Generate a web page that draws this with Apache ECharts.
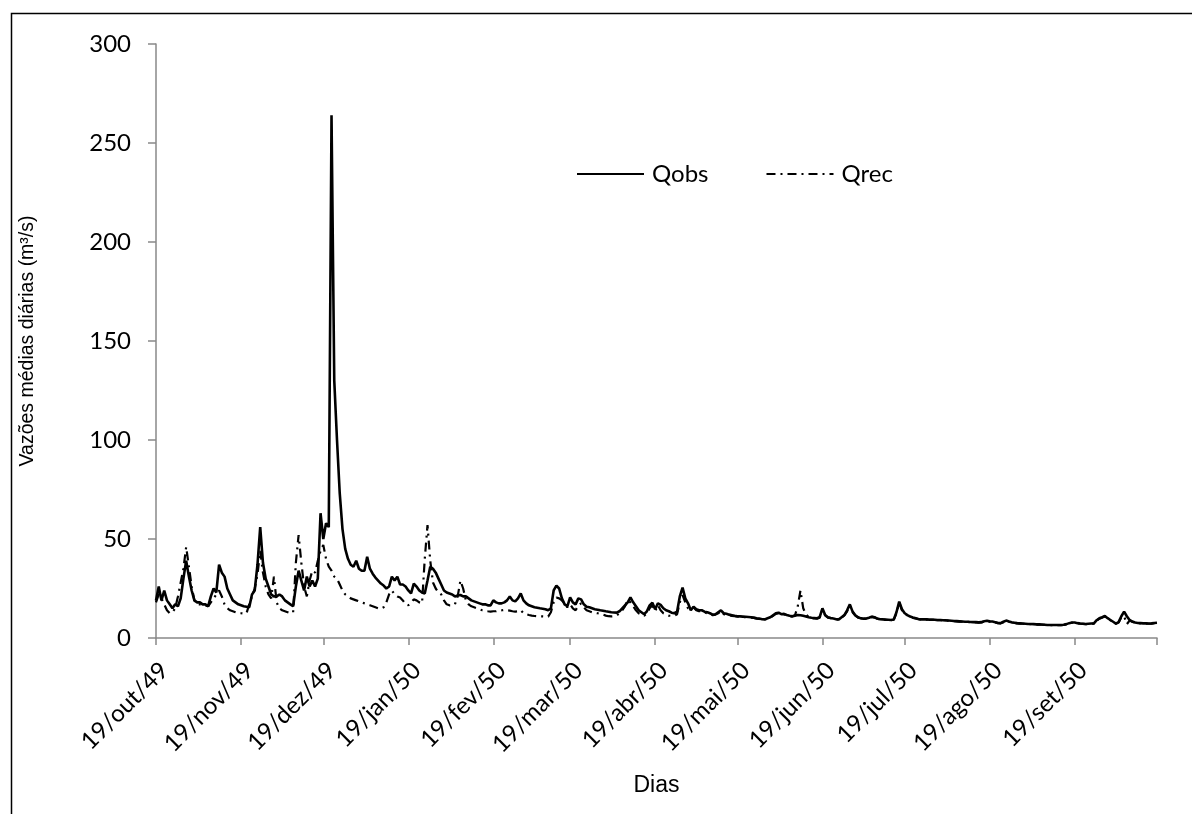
<!DOCTYPE html>
<html>
<head>
<meta charset="utf-8">
<script src="https://cdn.jsdelivr.net/npm/echarts@6/dist/echarts.min.js"></script>
<style>
html,body{margin:0;padding:0;background:#fff;}
#chart{width:1192px;height:814px;}
</style>
</head>
<body>
<div id="chart"></div>
<script>
// ---- data ----
var startYear = 1949, startMonth = 9, startDay = 19; // 19/out/49
var dayCount = 366;
var monthNames = ['jan','fev','mar','abr','mai','jun','jul','ago','set','out','nov','dez'];
var yTicks = [0, 50, 100, 150, 200, 250, 300];

var qobs = [
  19,26,19,24,19,17,15,17,16,20, 30,39,31,24,19,18,18,17,17,16, 21,25,23,37,33,31,25,22,19,18, 17,
  16.5,16,15.8,15.6,22,24,37,56,38,30, 26,22,21,21,22,21,19,18,17,16, 26,34,29,24,31,26,29,26,30,63,
  50,58,56,264,130,100,73,55,45,40, 37,36,39,35,34,34,41,35,32.5,30.5, 29,27.5,26.5,25,26,31,29,31,27,27, 26,
  24,22.5,27.5,26,24,23,22.5,29,36,35, 33,30,27,24,23,22.5,22,21,21.5,21.7, 21,21,20,19,18.5,18,17.5,17,17,16.5, 16.5,
  19,18,17.5,17.5,18,19,21,19,18.5,20, 22.5,19,17.5,16.5,16,15.5,15.3,15,14.8,14.5, 14,15,24,26.5,25,20,17,16,
  20.5,18,17,20,19.5,17,15.8,15.5,15,14.5, 14.3,14,13.8,13.5,13.3,13,12.9,12.8,13.5,15, 16.5,18,20.5,18,16,14,13,12,13.5,16.5, 17.8,
  14.5,17.5,16.7,15,14,13.5,12.8,12.5,13.3,21, 25.5,20,17.5,14,15.8,14.5,14,14,13.3,13, 12.5,11.8,12,13,14,12.5,12.2,11.8,11.5,11.2,
  11,10.9,10.8,10.7,10.6,10.5,10.3,10,9.8,9.5, 9.4,10,10.5,11.5,12.5,12.8,12,12.2,11.6,11.2, 11,11.3,11.6,11.5,11.2,10.9,10.5,10.2,10.1,10, 10.5,
  15,11.6,10.5,10.1,9.8,9.5,9.4,10.5,11.6,14, 17,13.3,11.5,10.5,9.9,9.8,9.8,10.2,10.8,10.5, 9.8,9.5,9.4,9.3,9.2,9.1,9.3,13,18.4,14.5,
  12.5,11.6,10.8,10.4,10,9.6,9.4,9.4,9.4,9.3, 9.3,9.2,9.1,9.1,9,8.9,8.8,8.7,8.6,8.5, 8.4,8.3,8.2,8.2,8.1,8,8,7.9,8,8.5, 8.7,
  8.4,8.3,8,7.6,7.5,8.2,8.8,8.3,7.9,7.7, 7.5,7.4,7.3,7.2,7.1,7.1,7,6.9,6.9,6.8, 6.7,6.6,6.6,6.6,6.6,6.6,6.6,6.7,7,7.5, 7.8,
  7.8,7.5,7.3,7.2,7.1,7.2,7.3,7.4,9,10, 10.5,11.1,10,9.1,8.2,7.3,8,11,13.3,11, 9.1,8.3,7.8,7.6,7.5,7.4,7.4,7.3,7.4,7.6, 7.7
];

var qrec = [
  18,22,20,17,14,12.5,13,15,21,28, 35,46,36,26,19,17,17,16.5,16.5,16, 18,20,22,24,21,17,15,14,13.5,13, 12.5,
  12.5,12.3,12.5,17,21,25,32,44,33,26, 22,20,31,18,15,14,13.5,13,12.5,13, 38,52,38,26,21,29,34,33,39,44,
  47,40,36,34,31,30,27,24,22,21, 20,19.5,19,18.5,18,17.5,17,16.5,16,15.5, 15,14.8,15.5,18,22,24,22,21,20.5,19, 17,
  16.5,18,19.5,19,18,17.5,40,57,39,28, 25,23,22,19,17,16.5,16.5,17,21,29, 25,19,17,16,15.5,15,14.5,14,13.8,13.5, 13.3,
  13.5,13.5,14,14,14.2,14,13.8,13.5,13.3,13.5, 14,12.5,12,11.6,11.3,11.1,11,10.9,10.9,10.8, 10.8,13,18,20.5,20,19,17.5,15.5,
  17,15,14,16.5,17.5,15.5,14,13.5,13,12.8, 12.5,12.2,11.8,11.3,11,10.9,11,11.5,12.5,14, 16,19.2,18,16,14,12.5,11.8,11.3,12.5,15, 16.5,
  13.5,16.6,14,12.5,11.8,11.3,11.2,11.2,12,18, 21.7,18,15,14.5,15.5,14,13.5,13.5,13,12.5, 12.2,11.5,11.8,12.5,13.5,12,11.8,11.5,11.2,11,
  10.8,10.7,10.6,10.5,10.4,10.3,10.1,9.8,9.6,9.4, 9.3,9.8,10.3,11.2,12.2,12.5,11.8,12,11.4,11, 10.8,11.5,16,24,15,12,10.5,10,9.9,9.8, 10.3,
  14.5,11.4,10.3,10,9.7,9.4,9.3,10.3,11.4,13.5, 16.5,13,11.3,10.3,9.8,9.7,9.7,10,10.6,10.3, 9.7,9.4,9.3,9.2,9.1,9,9.2,12.5,18,14,
  12.3,11.4,10.6,10.2,9.9,9.5,9.3,9.3,9.3,9.2, 9.2,9.1,9,9,8.9,8.8,8.7,8.6,8.5,8.4, 8.3,8.2,8.1,8.1,8,7.9,7.9,7.8,7.9,8.4, 8.6,
  8.3,8.2,7.9,7.5,7.4,8,8.6,8.2,7.8,7.6, 7.4,7.3,7.2,7.1,7,7,6.9,6.8,6.8,6.7, 6.6,6.5,6.5,6.5,6.5,6.5,6.5,6.6,6.9,7.4, 7.7,
  7.7,7.4,7.2,7.1,7,7.1,7.2,7.3,8.8,9.8, 10.3,10.9,9.8,8.9,8.1,7.2,7.8,10.5,11,7, 8.8,8.2,7.7,7.5,7.4,7.3,7.3,7.2,7.3,7.5, 7.6
];

// category labels: dd/mmm/yy
var categories = [];
(function(){
  var t0 = Date.UTC(startYear, startMonth, startDay);
  for (var i = 0; i < dayCount; i++) {
    var d = new Date(t0 + i * 86400000);
    var dd = d.getUTCDate();
    var yy = String(d.getUTCFullYear()).slice(2);
    categories.push((dd < 10 ? '0' + dd : dd) + '/' + monthNames[d.getUTCMonth()] + '/' + yy);
  }
})();

var chart = echarts.init(document.getElementById('chart'), null, {renderer: 'canvas'});
var axisGray = '#898989';
var tickFont = 'Lato, "Open Sans", sans-serif';
var titleFont = '"Liberation Sans", Arial, sans-serif';

chart.setOption({
  backgroundColor: '#ffffff',
  animation: false,
  graphic: [{
    type: 'rect',
    left: 9, top: 11,
    shape: {width: 1200, height: 900},
    style: {fill: 'none', stroke: '#000', lineWidth: 1.5},
    silent: true, z: -1
  }],
  grid: {left: 156, right: 35, top: 44, bottom: 176, containLabel: false},
  legend: {
    left: 571, top: 157,
    itemWidth: 67, itemHeight: 14, itemGap: 57,
    itemStyle: {opacity: 0},
    textStyle: {fontFamily: tickFont, fontSize: 24, color: '#000', padding: [0, 0, 0, 3]},
    data: ['Qobs', 'Qrec']
  },
  xAxis: {
    type: 'category',
    data: categories,
    boundaryGap: false,
    name: 'Dias',
    nameLocation: 'middle',
    nameGap: 136,
    nameTextStyle: {fontFamily: titleFont, fontSize: 23, color: '#000'},
    axisLine: {show: true, lineStyle: {color: axisGray, width: 1.5}},
    axisTick: {show: true, length: 7, lineStyle: {color: axisGray, width: 1.5},
      interval: function(idx, val){ return val.indexOf('19/') === 0; }},
    axisLabel: {
      rotate: 45, margin: 20, verticalAlign: 'top',
      fontFamily: tickFont, fontSize: 24, color: '#000',
      interval: function(idx, val){ return val.indexOf('19/') === 0 && idx < dayCount - 1; }
    },
    splitLine: {show: false}
  },
  yAxis: {
    type: 'value',
    min: yTicks[0], max: yTicks[yTicks.length - 1], interval: 50,
    name: 'Vazões médias diárias (m³/s)',
    nameLocation: 'middle',
    nameGap: 118,
    nameTextStyle: {fontFamily: titleFont, fontSize: 19.5, color: '#000'},
    axisLine: {show: true, lineStyle: {color: axisGray, width: 1.5}},
    axisTick: {show: true, length: 8, lineStyle: {color: axisGray, width: 1.5}},
    axisLabel: {margin: 25, fontFamily: tickFont, fontSize: 24, color: '#000'},
    splitLine: {show: false}
  },
  series: [
    {
      name: 'Qobs', type: 'line', data: qobs,
      showSymbol: false, symbol: 'none',
      lineStyle: {color: '#000', width: 2.6},
      itemStyle: {color: '#000'},
      z: 3
    },
    {
      name: 'Qrec', type: 'line', data: qrec,
      showSymbol: false, symbol: 'none',
      lineStyle: {color: '#000', width: 2.2, type: [9, 5, 2, 5]},
      itemStyle: {color: '#000'},
      z: 2
    }
  ]
});
</script>
</body>
</html>
